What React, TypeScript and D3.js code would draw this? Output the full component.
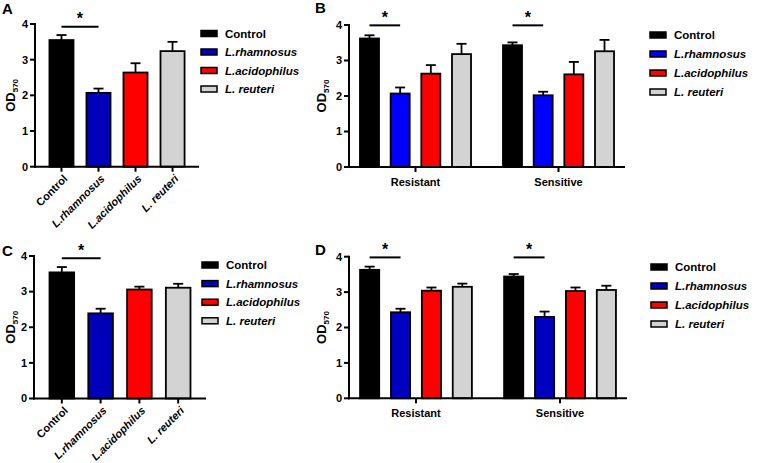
import React from 'react';
import * as d3 from 'd3';

const SPECIES = ['Control', 'L.rhamnosus', 'L.acidophilus', 'L. reuteri'];
const GROUPS = ['Resistant', 'Sensitive'];
const Y_TICKS = [0, 1, 2, 3, 4];

// panel A
const A_MEAN = [3.55, 2.07, 2.64, 3.24];
const A_ERR = [0.14, 0.12, 0.26, 0.26];
// panel B
const B_RES_MEAN = [3.62, 2.07, 2.63, 3.18];
const B_RES_ERR = [0.09, 0.17, 0.24, 0.29];
const B_SEN_MEAN = [3.43, 2.02, 2.61, 3.26];
const B_SEN_ERR = [0.08, 0.1, 0.35, 0.32];
// panel C
const C_MEAN = [3.54, 2.39, 3.06, 3.11];
const C_ERR = [0.15, 0.13, 0.08, 0.11];
// panel D
const D_RES_MEAN = [3.63, 2.43, 3.04, 3.15];
const D_RES_ERR = [0.09, 0.1, 0.09, 0.09];
const D_SEN_MEAN = [3.44, 2.3, 3.03, 3.06];
const D_SEN_ERR = [0.07, 0.15, 0.1, 0.12];

const FONT = "Arial, 'Liberation Sans', Helvetica, sans-serif";

const colorsFor = (blue: string) => ['#000000', blue, '#ff0000', '#d3d3d3'];

type Group = { name: string; mean: number[]; err: number[] };

type PanelProps = {
  letter: string;
  letterPos: [number, number];
  groups: Group[];
  grouped: boolean;
  xRange: [number, number];
  pad: [number, number];
  yRange: [number, number];
  blue: string;
  legendX: number;
  legendY: number;
  legendStep: number;
  sigLevel: number;
  labelX: number;
};

const Panel = (p: PanelProps) => {
  const colors = colorsFor(p.blue);
  const y = d3.scaleLinear().domain([0, 4]).range(p.yRange);
  const y0 = y(0);
  const axisX = p.xRange[0];

  let outer: d3.ScaleBand<string>;
  let inner: d3.ScaleBand<string>;
  if (p.grouped) {
    outer = d3.scaleBand().domain(p.groups.map((g) => g.name)).range(p.xRange).paddingInner(0.142).paddingOuter(0.036);
    inner = d3.scaleBand().domain(SPECIES).range([0, outer.bandwidth()]).paddingInner(p.pad[0]).paddingOuter(p.pad[1]);
  } else {
    outer = d3.scaleBand().domain(p.groups.map((g) => g.name)).range([0, 0]);
    inner = d3.scaleBand().domain(SPECIES).range(p.xRange).paddingInner(p.pad[0]).paddingOuter(p.pad[1]);
  }
  const gx = (g: string) => (p.grouped ? (outer(g) as number) : 0);
  const cx = (g: string, s: string) => gx(g) + (inner(s) as number) + inner.bandwidth() / 2;

  return (
    <g fontFamily={FONT} fontWeight="bold">
      <text x={p.letterPos[0]} y={p.letterPos[1]} fontSize={15}>
        {p.letter}
      </text>

      {/* bars + error bars */}
      {p.groups.map((g) =>
        SPECIES.map((s, i) => {
          const x = gx(g.name) + (inner(s) as number);
          const c = x + inner.bandwidth() / 2;
          const top = y(g.mean[i]);
          const et = y(g.mean[i] + g.err[i]);
          return (
            <g key={g.name + s}>
              <line x1={c} x2={c} y1={top} y2={et} stroke="#000" strokeWidth={1.8} />
              <line x1={c - 5} x2={c + 5} y1={et} y2={et} stroke="#000" strokeWidth={1.8} />
              <rect
                x={x}
                y={top}
                width={inner.bandwidth()}
                height={y0 - top}
                fill={colors[i]}
                stroke="#000"
                strokeWidth={1.8}
              />
            </g>
          );
        })
      )}

      {/* significance */}
      {p.groups.map((g) => {
        const x1 = cx(g.name, SPECIES[0]);
        const x2 = cx(g.name, SPECIES[1]);
        const ly = y(p.sigLevel);
        return (
          <g key={'sig' + g.name}>
            <line x1={x1} x2={x2} y1={ly} y2={ly} stroke="#000" strokeWidth={2} />
            <text x={(x1 + x2) / 2} y={ly - 2.5} fontSize={16} textAnchor="middle">
              *
            </text>
          </g>
        );
      })}

      {/* y axis */}
      <line x1={axisX} x2={axisX} y1={y0 + 1} y2={y(4) - 1} stroke="#000" strokeWidth={2} />
      {Y_TICKS.map((t) => (
        <g key={t}>
          <line x1={axisX - 5} x2={axisX} y1={y(t)} y2={y(t)} stroke="#000" strokeWidth={2} />
          <text x={axisX - 7} y={y(t)} dy="0.35em" fontSize={11} textAnchor="end">
            {t}
          </text>
        </g>
      ))}
      <text transform={`translate(${p.labelX},${(y0 + y(4)) / 2}) rotate(-90)`} fontSize={13} textAnchor="middle">
        OD<tspan fontSize={8} dy={3}>570</tspan>
      </text>

      {/* x axis */}
      <line x1={axisX - 1} x2={p.xRange[1]} y1={y0} y2={y0} stroke="#000" strokeWidth={2} />
      {p.grouped
        ? p.groups.map((g) => {
            const c = gx(g.name) + outer.bandwidth() / 2;
            return (
              <g key={'xt' + g.name}>
                <line x1={c} x2={c} y1={y0} y2={y0 + 5} stroke="#000" strokeWidth={2} />
                <text x={c} y={y0 + 19} fontSize={11} textAnchor="middle">
                  {g.name}
                </text>
              </g>
            );
          })
        : SPECIES.map((s, i) => {
            const c = cx(p.groups[0].name, s);
            return (
              <g key={'xt' + s}>
                <line x1={c} x2={c} y1={y0} y2={y0 + 5} stroke="#000" strokeWidth={2} />
                <text
                  transform={`translate(${c + 4},${y0 + 10}) rotate(-45)`}
                  dy="0.35em"
                  fontSize={11}
                  textAnchor="end"
                  fontStyle={i === 0 ? 'normal' : 'italic'}
                >
                  {s}
                </text>
              </g>
            );
          })}

      {/* legend */}
      {SPECIES.map((s, i) => {
        const ly = p.legendY + i * p.legendStep;
        return (
          <g key={'lg' + s}>
            <rect x={p.legendX} y={ly - 3} width={16} height={6} fill={colors[i]} stroke="#000" strokeWidth={1.5} />
            <text x={p.legendX + 24} y={ly} dy="0.35em" fontSize={11.5} fontStyle={i === 0 ? 'normal' : 'italic'}>
              {s}
            </text>
          </g>
        );
      })}
    </g>
  );
};

export default function App() {
  return (
    <svg
      width={760}
      height={463}
      style={{ position: 'absolute', left: 0, top: 0, background: '#fff' }}
    >
      <rect width={760} height={463} fill="#fff" />
      <Panel
        letter="A"
        letterPos={[2, 14]}
        groups={[{ name: 'all', mean: A_MEAN, err: A_ERR }]}
        grouped={false}
        xRange={[35, 199]}
        pad={[0.35, 0.39]}
        yRange={[166.7, 24]}
        blue="#0000bb"
        legendX={201}
        legendY={33.5}
        legendStep={18.5}
        sigLevel={3.92}
        labelX={15}
      />
      <Panel
        letter="B"
        letterPos={[315, 13]}
        groups={[
          { name: GROUPS[0], mean: B_RES_MEAN, err: B_RES_ERR },
          { name: GROUPS[1], mean: B_SEN_MEAN, err: B_SEN_ERR },
        ]}
        grouped={true}
        xRange={[349, 625]}
        pad={[0.38, 0.19]}
        yRange={[167, 25]}
        blue="#0000ff"
        legendX={650}
        legendY={35}
        legendStep={19}
        sigLevel={3.99}
        labelX={326}
      />
      <Panel
        letter="C"
        letterPos={[2, 256]}
        groups={[{ name: 'all', mean: C_MEAN, err: C_ERR }]}
        grouped={false}
        xRange={[34, 206]}
        pad={[0.365, 0.4]}
        yRange={[398.5, 256]}
        blue="#0000b8"
        legendX={202}
        legendY={265}
        legendStep={18.6}
        sigLevel={3.94}
        labelX={15}
      />
      <Panel
        letter="D"
        letterPos={[315, 255]}
        groups={[
          { name: GROUPS[0], mean: D_RES_MEAN, err: D_RES_ERR },
          { name: GROUPS[1], mean: D_SEN_MEAN, err: D_SEN_ERR },
        ]}
        grouped={true}
        xRange={[349, 627]}
        pad={[0.38, 0.19]}
        yRange={[398.3, 256.7]}
        blue="#0000c0"
        legendX={651}
        legendY={267}
        legendStep={19}
        sigLevel={3.98}
        labelX={326}
      />
    </svg>
  );
}
